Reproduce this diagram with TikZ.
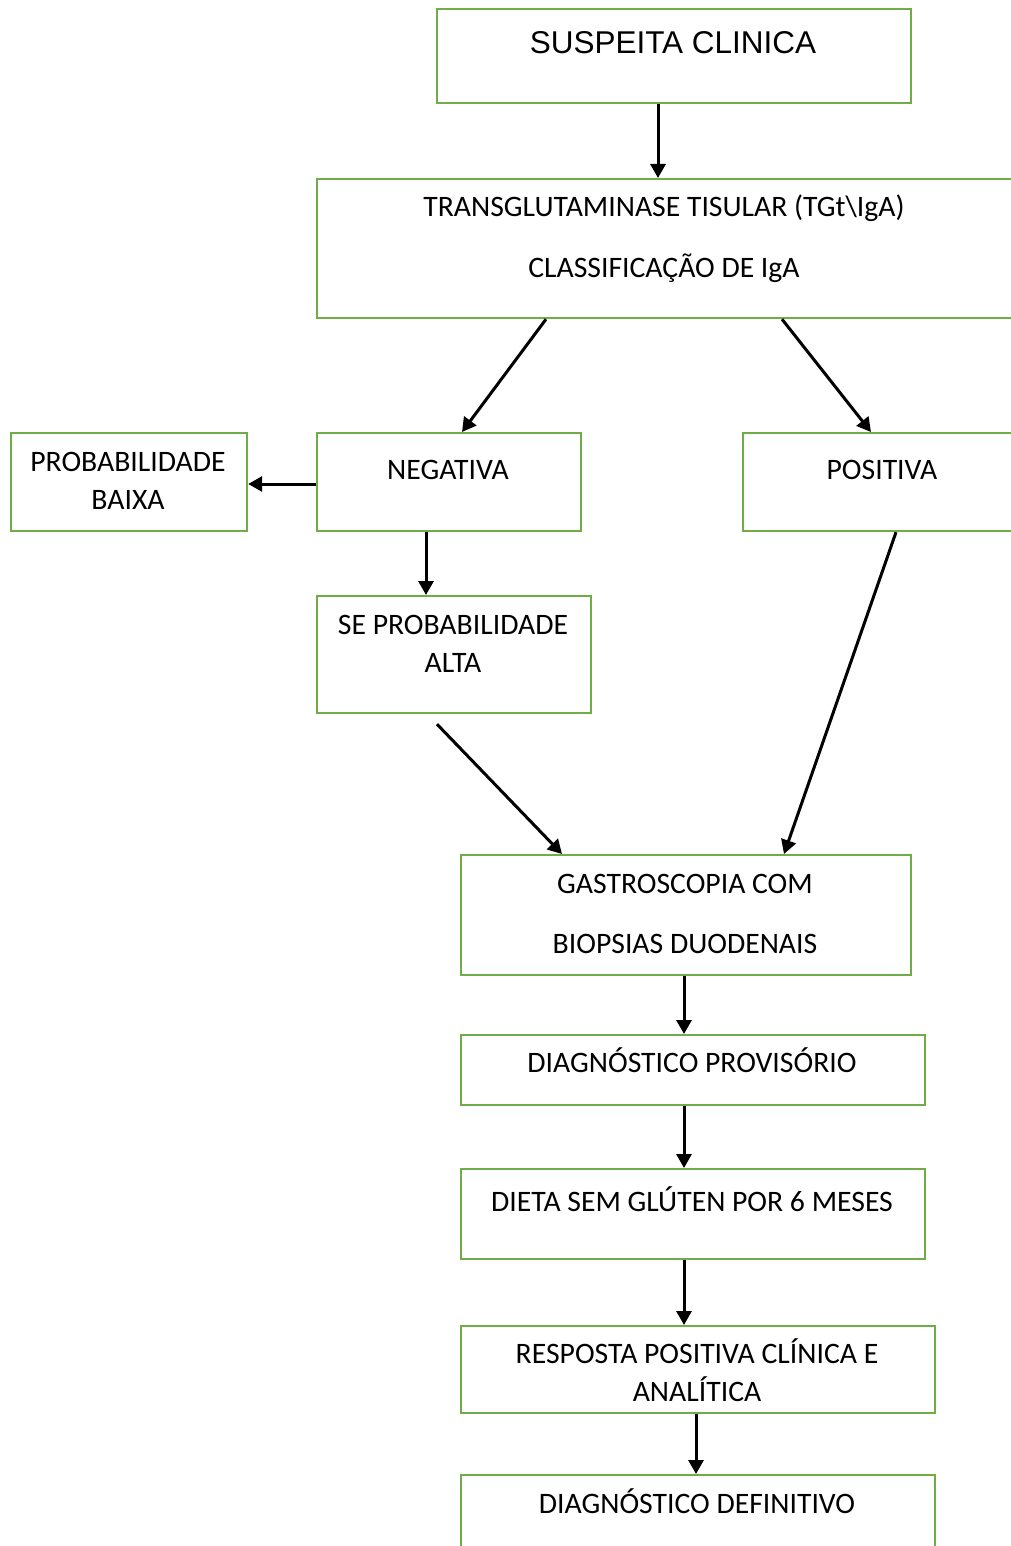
\documentclass[tikz,border=0pt]{standalone}
\usepackage{fontspec}
\setmainfont{Carlito}
\newfontfamily\arialf{Liberation Sans}
\usetikzlibrary{arrows.meta,calc}
\definecolor{boxgreen}{RGB}{112,173,71}
\begin{document}
\begin{tikzpicture}[x=1pt,y=-1pt,
  box/.style={draw=boxgreen,line width=2.2pt,rectangle,anchor=north west,inner sep=0pt},
  txt/.style={anchor=base,inner sep=0pt,font=\fontsize{29.7}{35}\selectfont},
  conn/.style={line width=3pt,-{Triangle[width=15pt,length=14pt]}}]
\useasboundingbox (0,0) rectangle (1011,1546);
\clip (0,0) rectangle (1011,1546);
\fill[white] (0,0) rectangle (1011,1546);
% boxes
\node[box,minimum width=474pt,minimum height=94pt] (s) at (436,8) {};
\node[box,minimum width=720pt,minimum height=139pt] (tg) at (316,178) {};
\node[box,minimum width=236pt,minimum height=98pt] (pb) at (10,432) {};
\node[box,minimum width=264pt,minimum height=98pt] (neg) at (316,432) {};
\node[box,minimum width=290pt,minimum height=98pt] (pos) at (742,432) {};
\node[box,minimum width=274pt,minimum height=117pt] (alta) at (316,595) {};
\node[box,minimum width=450pt,minimum height=120pt] (gas) at (460,854) {};
\node[box,minimum width=464pt,minimum height=70pt] (dp) at (460,1034) {};
\node[box,minimum width=464pt,minimum height=90pt] (di) at (460,1168) {};
\node[box,minimum width=474pt,minimum height=87pt] (rp) at (460,1325) {};
\node[box,minimum width=474pt,minimum height=120pt] (dd) at (460,1474) {};
% texts
\node[txt,font=\arialf\fontsize{31.5}{36}\selectfont] (sT) at (673,54) {SUSPEITA CLINICA};
\node[txt] (tg1) at (664,217) {TRANSGLUTAMINASE TISULAR (TGt\textbackslash IgA)};
\node[txt] (tg2) at (664,277) {CLASSIFICAÇÃO DE IgA};
\node[txt] (pb1) at (128,471) {PROBABILIDADE};
\node[txt] (pb2) at (128,509) {BAIXA};
\node[txt] (negT) at (448,479) {NEGATIVA};
\node[txt] (posT) at (882,479) {POSITIVA};
\node[txt] (al1) at (453,634) {SE PROBABILIDADE};
\node[txt] (al2) at (453,672) {ALTA};
\node[txt] (ga1) at (685,893) {GASTROSCOPIA COM};
\node[txt] (ga2) at (685,953) {BIOPSIAS DUODENAIS};
\node[txt] (dpT) at (692,1072) {DIAGNÓSTICO PROVISÓRIO};
\node[txt] (diT) at (692,1211) {DIETA SEM GLÚTEN POR 6 MESES};
\node[txt] (rp1) at (697,1363) {RESPOSTA POSITIVA CLÍNICA E};
\node[txt] (rp2) at (697,1401) {ANALÍTICA};
\node[txt] (ddT) at (697,1513) {DIAGNÓSTICO DEFINITIVO};
% connectors
\draw[conn] ($(s.south west)+(222,0)$) -- ($(tg.north west)+(342,0)$);
\draw[conn] ($(tg.south west)+(230,0)$) -- ($(neg.north west)+(146,0)$);
\draw[conn] ($(tg.south west)+(466,0)$) -- ($(pos.north west)+(129,0)$);
\draw[conn] ($(neg.north west)+(0,52)$) -- ($(pb.north east)+(0,52)$);
\draw[conn] ($(neg.south west)+(110,0)$) -- ($(alta.north west)+(110,0)$);
\draw[conn] ($(alta.south west)+(121,10)$) -- ($(gas.north west)+(102,0)$);
\draw[conn] ($(pos.south west)+(154,0)$) -- ($(gas.north west)+(324,0)$);
\draw[conn] ($(gas.south west)+(224,0)$) -- ($(dp.north west)+(224,0)$);
\draw[conn] ($(dp.south west)+(224,0)$) -- ($(di.north west)+(224,0)$);
\draw[conn] ($(di.south west)+(224,0)$) -- ($(rp.north west)+(224,0)$);
\draw[conn] ($(rp.south west)+(236,0)$) -- ($(dd.north west)+(236,0)$);
\end{tikzpicture}
\end{document}
